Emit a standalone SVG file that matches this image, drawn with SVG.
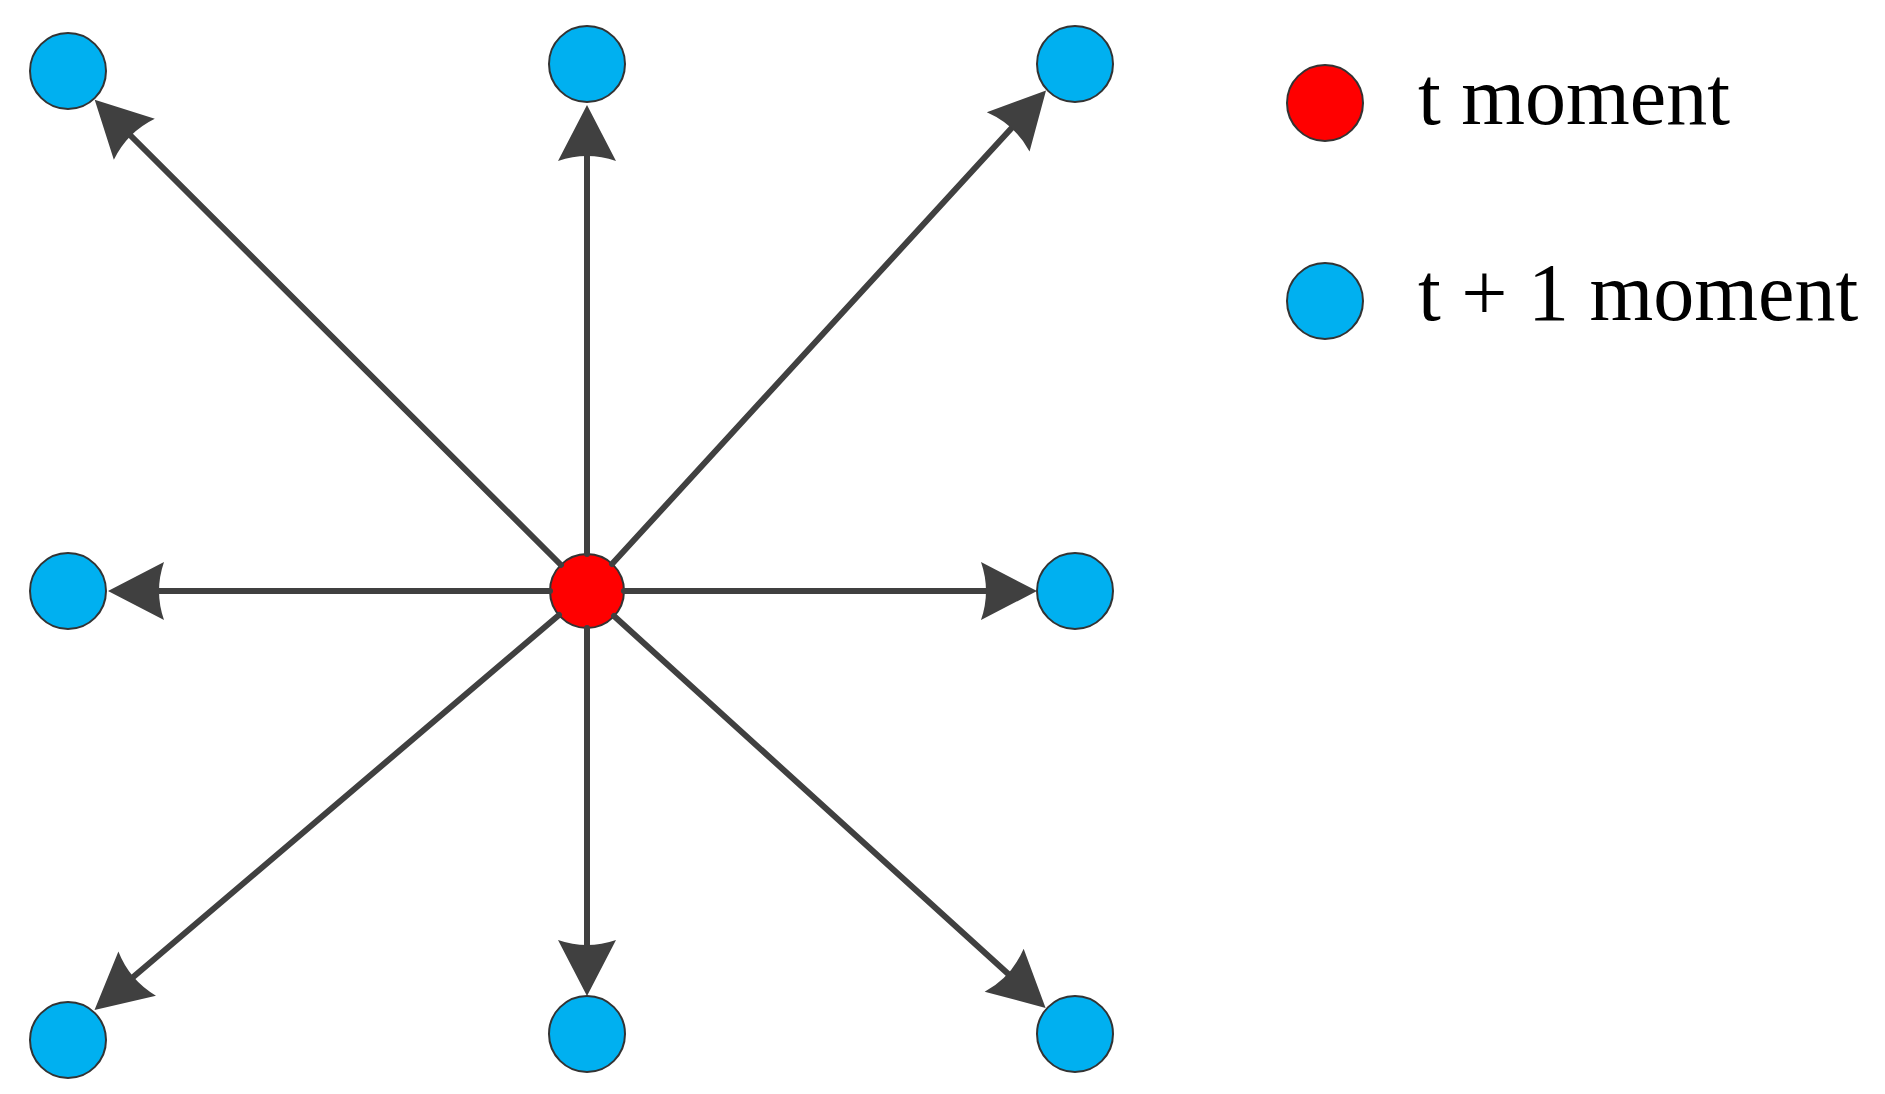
<svg xmlns="http://www.w3.org/2000/svg" width="1885" height="1094" viewBox="0 0 1885 1094">
<style>
.b{fill:#00b0f0;stroke:#333;stroke-width:2}
.r{fill:#ff0000;stroke:#333;stroke-width:2}
.e{stroke:#404040;stroke-width:6;fill:none;stroke-linecap:round}
.t{font-family:"Liberation Serif",serif;font-size:82px;fill:#000}
</style>
<defs>
<marker id="a" markerUnits="userSpaceOnUse" orient="auto" markerWidth="80" markerHeight="80" refX="0" refY="0" viewBox="-20 -40 80 80" overflow="visible">
<path d="M40,0 L-16,-29 Q-6,0 -16,29 Z" fill="#404040"/>
</marker>
</defs>
<rect width="1885" height="1094" fill="#fff"/>
<g id="n0"><circle class="b" cx="68" cy="71" r="38"/></g>
<g id="n1"><circle class="b" cx="587" cy="64" r="38"/></g>
<g id="n2"><circle class="b" cx="1075" cy="64" r="38"/></g>
<g id="n3"><circle class="b" cx="68" cy="591" r="38"/></g>
<g id="n4"><circle class="b" cx="1075" cy="591" r="38"/></g>
<g id="n5"><circle class="b" cx="68" cy="1040" r="38"/></g>
<g id="n6"><circle class="b" cx="587" cy="1034" r="38"/></g>
<g id="n7"><circle class="b" cx="1075" cy="1034" r="38"/></g>
<g id="center"><circle class="r" cx="587" cy="591" r="37"/></g>
<g id="connectors">
<line class="e" x1="587" y1="554" x2="587" y2="145" marker-end="url(#a)"/>
<line class="e" x1="587" y1="628" x2="587" y2="956" marker-end="url(#a)"/>
<line class="e" x1="550" y1="591" x2="148" y2="591" marker-end="url(#a)"/>
<line class="e" x1="624" y1="591" x2="997" y2="591" marker-end="url(#a)"/>
<line class="e" x1="561" y1="565" x2="123" y2="128" marker-end="url(#a)"/>
<line class="e" x1="612" y1="564" x2="1019" y2="120" marker-end="url(#a)"/>
<line class="e" x1="559" y1="615" x2="125" y2="984" marker-end="url(#a)"/>
<line class="e" x1="614" y1="616" x2="1016" y2="981" marker-end="url(#a)"/>
</g>
<g id="legend-t"><circle class="r" cx="1325" cy="103" r="38"/><text class="t" x="1418" y="124">t moment</text></g>
<g id="legend-t1"><circle class="b" cx="1325" cy="301" r="38"/><text class="t" x="1418" y="320">t + 1 moment</text></g>
</svg>
